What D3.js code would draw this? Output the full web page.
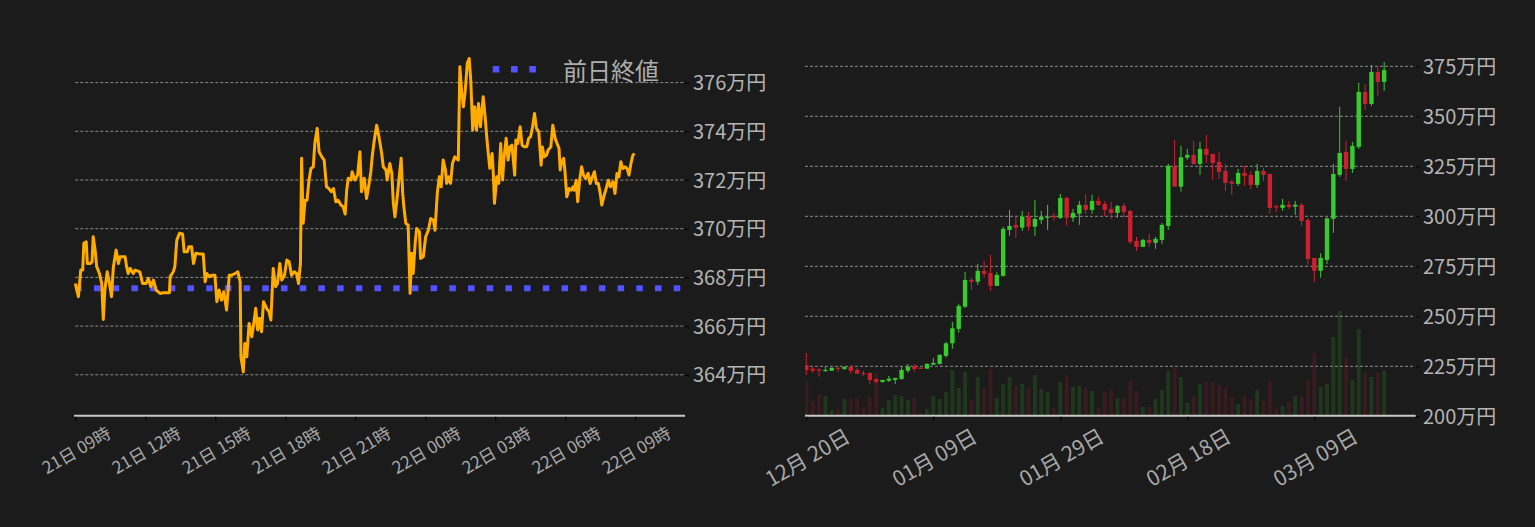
<!DOCTYPE html>
<html><head><meta charset="utf-8">
<script src="https://cdn.jsdelivr.net/npm/d3@7"></script>
<style>
html,body{margin:0;padding:0;background:#1b1b1b;}
svg{display:block;}
text{font-family:"Noto Sans CJK JP","Noto Sans",sans-serif;}
</style>
</head><body>
<svg id="c" width="1535" height="527"></svg>
<script>
// ---------- Intraday (left) ----------
const intradayStart = "2024-03-21T09:00:00";
const intradayMinutes = [0,8,14,19,22,28,31,38,43,46,51,55,62,68,72,76,82,88,93,98,105,111,115,128,132,136,141,149,154,166,173,182,188,194,201,208,218,226,242,244,252,256,261,268,276,280,288,292,299,304,310,321,329,334,338,345,351,359,364,370,376,382,389,396,
402,411,418,424,426,432,436,441,447,454,459,464,469,474,479,484,492,498,503,509,515,520,526,531,538,544,550,556,563,569,574,579,582,586,591,596,601,606,612,616,622,627,634,640,646,652,658,664,670,676,683,689,694,698,702,709,712,719,726,732,736,743,749,755,760,764,769,775,781,
788,792,799,802,809,814,818,822,828,833,838,842,845,850,856,861,865,869,874,878,885,888,895,901,908,914,921,925,931,936,941,946,952,955,960,965,970,976,985,989,994,998,1003,1008,1013,1017,1022,1027,1032,1037,1042,1049,1054,1058,1062,1066,1072,1075,1078,1084,1089,1094,1099,1102,1108,1113,1118,1123,1130,1133,1138,1144,1149,1154,1161,1166,1171,1176,1181,1186,1192,
1194,1198,1201,1206,1212,1216,1223,1228,1234,1239,1244,1247,1251,1256,1259,1264,1270,1275,1280,1283,1288,1292,1297,1302,1307,1312,1319,1324,1330,1335,1340,1345,1350,1354,1359,1364,1371,1376,1383,1388,1393,1398,1403,1408,1414,1419,1424,1429,1434,1438];
const intradayPrices = [367.75,367.21,368.30,368.30,369.40,369.46,368.57,368.57,368.64,369.67,369.12,368.44,368.16,367.75,366.27,367.48,368.23,367.75,367.21,368.44,369.12,368.57,368.85,368.85,368.44,368.16,368.37,368.16,368.30,368.23,367.75,367.75,367.96,367.62,367.89,367.48,367.34,367.37,367.37,368.03,368.23,368.44,369.53,369.81,369.78,369.05,369.05,369.26,369.26,368.57,368.99,368.96,368.96,367.82,368.16,368.03,368.09,368.09,367.00,367.48,367.07,367.41,366.66,368.09,
368.09,368.16,368.23,367.82,364.74,364.12,365.29,364.74,366.11,365.56,366.11,366.73,365.84,366.32,365.77,367.00,366.73,366.59,366.25,368.37,367.62,367.75,368.57,367.89,368.09,368.71,368.64,368.09,368.23,368.16,367.75,368.57,372.89,370.22,371.17,371.17,371.99,372.47,372.54,373.50,374.12,373.16,372.95,372.82,371.72,371.65,371.52,371.65,371.11,371.17,370.97,370.90,370.60,371.59,372.07,372.00,372.34,372.00,372.20,373.16,371.52,372.07,371.24,371.79,372.34,373.02,373.64,374.25,373.77,
373.09,372.54,372.41,372.00,372.68,372.27,371.04,370.49,371.31,372.13,372.89,371.45,370.90,370.22,370.15,367.34,368.99,368.16,369.40,370.01,369.88,368.78,368.85,369.67,369.94,370.42,370.35,369.94,371.45,372.13,371.72,372.82,372.41,371.86,372.13,371.86,372.68,372.95,372.82,376.65,375.56,375.01,375.69,376.79,376.99,376.10,374.05,375.01,374.05,375.14,374.19,375.42,374.60,373.78,373.09,372.48,373.09,372.27,371.04,372.13,371.86,373.50,372.00,372.82,373.71,372.82,373.37,373.43,372.20,373.64,373.50,374.19,373.43,373.37,373.37,373.71,373.78,374.19,374.73,374.12,373.98,
373.50,372.61,373.36,372.95,373.02,373.23,373.36,374.25,373.71,373.50,373.30,372.41,372.75,372.89,372.41,371.31,371.65,371.58,371.72,371.58,371.99,371.11,371.99,372.54,372.20,372.06,372.27,371.86,372.13,372.34,371.86,371.86,371.45,370.97,371.31,371.58,371.99,371.72,371.93,371.45,372.27,372.13,372.75,372.47,372.54,372.47,372.20,372.68,373.02,373.09];
const prevClose = 367.55;
const leftYTicks = [364,366,368,370,372,374,376];
const leftXTicks = ["2024-03-21T09:00:00","2024-03-21T12:00:00","2024-03-21T15:00:00","2024-03-21T18:00:00","2024-03-21T21:00:00","2024-03-22T00:00:00","2024-03-22T03:00:00","2024-03-22T06:00:00","2024-03-22T09:00:00"];
const legendLabel = "前日終値";

// ---------- Daily candles (right) ----------
const candleStart = "2023-12-20T00:00:00";
const candleOpen  = [225.6,223.8,223.5,222.7,222.8,224.3,223.7,224.8,223.2,221.6,221.7,218.7,217.2,217.8,218.2,218.7,222.8,224.8,224.3,223.8,225.8,226.2,230.2,236.5,243.7,254.8,268.2,267.3,272.7,271.7,265.2,270.2,293.2,295.7,294.3,299.8,294.8,298.2,299.3,300.2,299.2,309.2,299.3,301.3,305.7,303.2,307.7,306.2,303.7,301.7,305.2,302.7,287.7,284.7,288.2,286.7,288.2,295.2,324.8,314.8,329.3,330.7,326.2,333.7,331.2,327.2,322.7,317.3,316.2,321.7,320.7,315.7,322.7,321.2,305.0,304.2,305.8,304.8,305.7,298.2,279.2,272.8,278.2,298.7,320.7,332.2,323.7,334.7,362.2,356.2,372.2,367.2];
const candleHigh  = [231.6,224.5,224.0,225.1,224.3,224.3,224.8,225.2,224.0,222.7,221.7,218.7,218.2,220.2,219.2,224.8,226.2,226.2,224.5,226.5,229.2,231.0,237.2,247.2,256.2,272.2,269.3,276.2,277.7,280.7,272.0,294.7,303.2,299.8,302.7,302.2,308.2,302.7,305.7,301.7,311.2,309.8,303.7,307.7,311.2,310.7,309.7,307.7,307.2,305.7,306.7,303.2,289.7,288.7,291.2,289.7,296.7,326.2,338.2,335.2,333.7,337.7,337.2,340.7,331.2,332.2,326.2,318.2,323.7,325.2,322.7,326.2,324.2,321.2,305.7,308.7,307.7,307.7,306.7,299.0,279.2,281.5,299.5,326.2,354.7,337.7,337.2,366.7,366.2,375.7,375.2,377.2];
const candleLow   = [220.6,221.8,219.8,222.3,222.8,222.3,223.2,221.2,221.2,220.3,216.2,216.5,216.8,217.2,216.2,218.2,221.8,222.3,223.7,223.7,225.8,225.8,229.3,233.8,241.8,254.2,263.2,265.7,269.3,262.7,265.2,269.8,290.2,289.2,292.7,292.7,290.2,296.2,293.2,297.7,298.7,295.2,297.2,295.7,301.2,301.2,305.2,300.2,298.7,299.2,299.2,286.2,282.7,284.7,284.7,283.7,286.2,293.2,314.8,312.3,328.2,325.7,320.7,326.7,318.2,318.7,312.7,310.7,315.2,315.2,313.7,314.2,317.7,301.2,302.2,302.8,303.7,300.7,295.2,275.7,267.0,269.3,276.2,291.7,319.7,317.7,321.7,333.7,353.2,355.2,360.2,362.7];
const candleClose = [223.1,222.8,223.0,223.2,224.3,223.8,224.7,222.7,221.3,221.3,218.2,217.2,218.2,218.8,219.2,223.2,224.8,223.7,223.8,226.2,226.7,230.7,236.5,244.0,255.2,268.2,267.2,272.7,271.2,265.2,270.7,293.7,295.2,294.3,299.8,294.8,298.7,299.8,299.8,299.5,309.2,299.2,301.7,305.7,303.2,307.7,305.7,303.2,301.7,305.2,302.2,287.2,284.7,288.2,286.7,288.7,295.7,325.2,314.8,329.5,330.7,326.2,333.7,330.7,326.7,322.2,316.7,316.3,321.7,320.2,315.7,322.7,320.7,304.2,304.5,305.7,304.7,305.8,297.7,278.7,272.8,279.2,299.0,321.2,331.7,323.7,335.2,362.2,356.2,372.2,367.2,373.2];
const candleVolume = [35,15,22,20,6,7,17,17,18,9,19,43,8,16,21,20,16,18,3,7,20,17,24,46,28,44,16,39,28,47,18,32,39,30,32,28,41,27,24,8,34,41,29,30,28,25,8,24,26,18,18,35,25,9,9,17,26,45,48,39,13,20,32,34,34,31,28,19,12,20,17,26,15,35,8,10,14,20,19,36,63,29,32,79,105,58,36,87,43,39,43,45];
const rightYTicks = [200,225,250,275,300,325,350,375];
const rightXTicks = ["2023-12-20T00:00:00","2024-01-09T00:00:00","2024-01-29T00:00:00","2024-02-18T00:00:00","2024-03-09T00:00:00"];

// ---------- Styles ----------
const BG = "#1b1b1b", GRID = "#8c8c8c", AXIS = "#c8c8c8", LABEL = "#b4b4b4";
const LINE = "#ffab00", PREV = "#5252ff", UP = "#35cc2c", DOWN = "#cc2030";

const svg = d3.select("#c");
svg.append("rect").attr("width",1535).attr("height",527).attr("fill",BG);

// ===== Left chart =====
const t0 = new Date(intradayStart);
const xL = d3.scaleTime().domain([t0, d3.timeMinute.offset(t0, 1568)]).range([75.3, 685]);
const yL = d3.scaleLinear().domain([362.32, 378]).range([415.7, 33.9]);
const L = svg.append("g");

L.append("g").selectAll("line").data(leftYTicks).join("line")
  .attr("x1",75.3).attr("x2",685).attr("y1",d=>yL(d)).attr("y2",d=>yL(d))
  .attr("stroke",GRID).attr("stroke-width",1).attr("stroke-dasharray","3,2");

const yAxL = L.append("g").attr("transform","translate(685,0)")
  .call(d3.axisRight(yL).tickValues(leftYTicks).tickSize(4).tickSizeOuter(0).tickFormat(d=>d+"万円"));
yAxL.select(".domain").remove();
yAxL.selectAll(".tick line").attr("stroke","#000");
yAxL.selectAll(".tick text").attr("x",8).attr("fill",LABEL).attr("font-size",20)
  .attr("font-family",'"Noto Sans CJK JP",sans-serif').attr("dy","0.36em");

// prev close
L.append("line").attr("x1",75.3).attr("x2",685).attr("y1",yL(prevClose)).attr("y2",yL(prevClose))
  .attr("stroke",PREV).attr("stroke-width",6).attr("stroke-dasharray","6.5,12.2");

const pts = intradayMinutes.map((m,i)=>[d3.timeMinute.offset(t0,m), intradayPrices[i]]);
L.append("path").datum(pts)
  .attr("d", d3.line().x(d=>xL(d[0])).y(d=>yL(d[1])))
  .attr("fill","none").attr("stroke",LINE).attr("stroke-width",3).attr("stroke-linejoin","round");

const xAxL = L.append("g").attr("transform","translate(0,415.7)")
  .call(d3.axisBottom(xL).tickValues(leftXTicks.map(s=>new Date(s))).tickSize(5).tickSizeOuter(0)
    .tickFormat(d3.timeFormat("%d日 %H時")));
xAxL.select(".domain").attr("stroke",AXIS).attr("stroke-width",2).attr("d","M74,0H685");
xAxL.selectAll(".tick line").attr("stroke","#000").attr("y1",1);
xAxL.selectAll(".tick text").attr("y",0).attr("dy",null).attr("fill","#a8a8a8").attr("font-size",17)
  .attr("font-family",'"Noto Sans CJK JP",sans-serif')
  .attr("text-anchor","middle").attr("dominant-baseline","central")
  .attr("transform","translate(0,33.5) rotate(-30)");

// legend
L.append("line").attr("x1",492.7).attr("x2",537).attr("y1",69.3).attr("y2",69.3)
  .attr("stroke",PREV).attr("stroke-width",6.5).attr("stroke-dasharray","6.6,11.7");
L.append("text").attr("x",563).attr("y",69.5).attr("dominant-baseline","central")
  .attr("fill","#adadad").attr("font-size",24).text(legendLabel);

// ===== Right chart =====
const d0 = new Date(candleStart);
const xR = d3.scaleTime().domain([d3.timeHour.offset(d0,-5), d3.timeDay.offset(d0,96)]).range([805, 1415.9]);
const yR = d3.scaleLinear().domain([200, 380]).range([416.3, 56.3]);
const vR = d3.scaleLinear().domain([0, 150]).range([416, 266]);
const R = svg.append("g");
svg.append("clipPath").attr("id","rc").append("rect").attr("x",805).attr("y",0).attr("width",611).attr("height",416);

R.append("g").selectAll("line").data(rightYTicks.filter(d=>d>200)).join("line")
  .attr("x1",805).attr("x2",1415.5).attr("y1",d=>yR(d)).attr("y2",d=>yR(d))
  .attr("stroke",GRID).attr("stroke-width",1).attr("stroke-dasharray","3,2");

const candles = candleOpen.map((o,i)=>({
  date: d3.timeDay.offset(d0,i), o, h:candleHigh[i], l:candleLow[i], c:candleClose[i], v:candleVolume[i]
}));
const CG = R.append("g").attr("clip-path","url(#rc)");
CG.selectAll("rect.vol").data(candles).join("rect").attr("class","vol")
  .attr("x",d=>xR(d.date)-2).attr("width",4)
  .attr("y",d=>vR(d.v)).attr("height",d=>vR(0)-vR(d.v))
  .attr("fill",d=>d.c>=d.o?UP:DOWN).attr("opacity",0.16);
CG.selectAll("line.wick").data(candles).join("line").attr("class","wick")
  .attr("x1",d=>xR(d.date)).attr("x2",d=>xR(d.date))
  .attr("y1",d=>yR(d.h)).attr("y2",d=>yR(d.l))
  .attr("stroke",d=>d.c>=d.o?UP:DOWN).attr("stroke-width",1);
CG.selectAll("rect.body").data(candles).join("rect").attr("class","body")
  .attr("x",d=>xR(d.date)-2.2).attr("width",4.4)
  .attr("y",d=>yR(Math.max(d.o,d.c)))
  .attr("height",d=>Math.max(1.2, Math.abs(yR(d.o)-yR(d.c))))
  .attr("fill",d=>d.c>=d.o?UP:DOWN);

const yAxR = R.append("g").attr("transform","translate(1415.5,0)")
  .call(d3.axisRight(yR).tickValues(rightYTicks).tickSize(4).tickSizeOuter(0).tickFormat(d=>d+"万円"));
yAxR.select(".domain").remove();
yAxR.selectAll(".tick line").attr("stroke","#000");
yAxR.selectAll(".tick text").attr("x",7.5).attr("fill",LABEL).attr("font-size",20)
  .attr("font-family",'"Noto Sans CJK JP",sans-serif').attr("dy","0.36em");

const xAxR = R.append("g").attr("transform","translate(0,415.7)")
  .call(d3.axisBottom(xR).tickValues(rightXTicks.map(s=>new Date(s))).tickSize(5).tickSizeOuter(0)
    .tickFormat(d3.timeFormat("%m月 %d日")));
xAxR.select(".domain").attr("stroke",AXIS).attr("stroke-width",2).attr("d","M805,0H1415.7");
xAxR.selectAll(".tick line").attr("stroke","#000").attr("y1",1);
xAxR.selectAll(".tick text").attr("y",0).attr("dy",null).attr("fill","#a8a8a8").attr("font-size",21)
  .attr("font-family",'"Noto Sans CJK JP",sans-serif')
  .attr("text-anchor","middle").attr("dominant-baseline","central")
  .attr("transform","translate(0,40.5) rotate(-30)");
</script>
</body></html>
